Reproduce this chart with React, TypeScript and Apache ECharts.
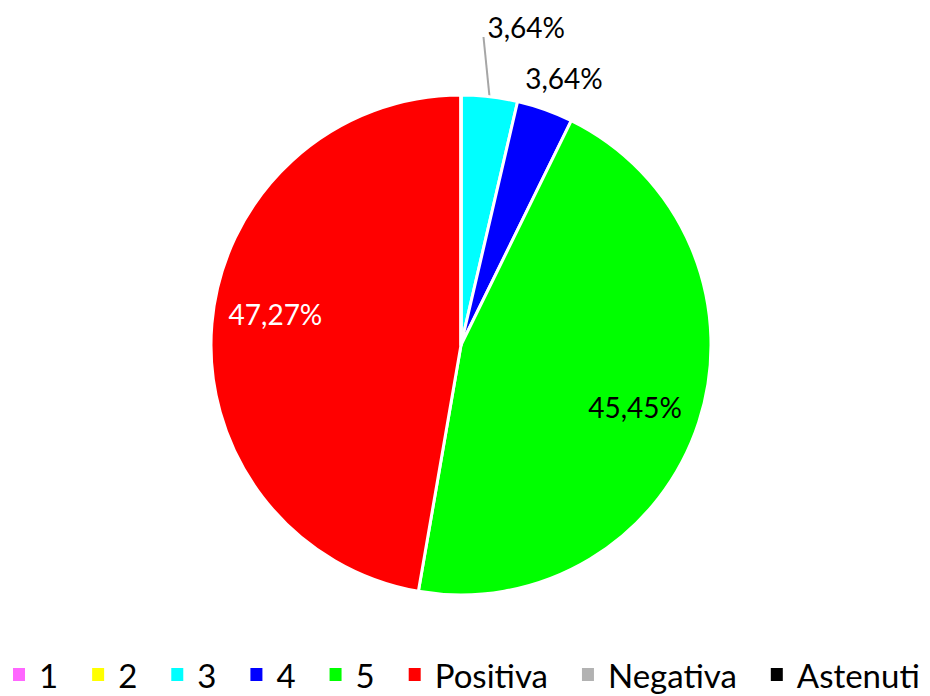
import React, { useEffect, useRef } from "react";
import * as echarts from "echarts";

const names = ["1", "2", "3", "4", "5", "Positiva", "Negativa", "Astenuti"];
const values = [0, 0, 2, 2, 25, 26, 0, 0];
const colors = ["#FF66FF", "#FFFF00", "#00FFFF", "#0000FF", "#00FF00", "#FF0000", "#B2B2B2", "#000000"];
const labelColors = ["#000", "#000", "#000", "#000", "#000", "#FFF", "#000", "#000"];

const FONT = "Lato";
const CX = 461;
const CY = 345;
const R = 250;

export default function App() {
  const ref = useRef<HTMLDivElement>(null);
  useEffect(() => {
    document.body.style.margin = "0";
    const chart = echarts.init(ref.current!, null, { renderer: "svg" });
    const total = values.reduce((a, b) => a + b, 0);
    const mid = values.map((v, i) => {
      const before = values.slice(0, i).reduce((a, b) => a + b, 0);
      return ((before + v / 2) / total) * 2 * Math.PI;
    });
    const data = names.map((n, i) => {
      const zero = values[i] === 0;
      const inside = i === 4 || i === 5;
      return {
        name: n,
        value: values[i],
        itemStyle: { color: colors[i] },
        label: {
          show: !zero,
          position: inside ? "inside" : "outside",
          color: labelColors[i],
        },
        labelLine: {
          show: i === 2,
          lineStyle: { color: "#A6A6A6", width: 2 },
        },
      };
    });
    chart.setOption({
      animation: false,
      backgroundColor: "#fff",
      legend: {
        data: names,
        left: 6,
        top: 653,
        icon: "rect",
        itemWidth: 14,
        itemHeight: 15,
        itemGap: 32,
        selectedMode: false,
        textStyle: { fontSize: 33, fontFamily: FONT, color: "#000", padding: [0, 0, 0, 8] },
      },
      series: [
        {
          type: "pie",
          center: [CX, CY],
          radius: R,
          startAngle: 90,
          clockwise: true,
          avoidLabelOverlap: false,
          itemStyle: { borderColor: "#fff", borderWidth: 3 },
          label: {
            fontSize: 28,
            fontFamily: FONT,
            formatter: (p: any) => p.percent.toFixed(2).replace(".", ",") + "%",
          },
          labelLine: { show: false },
          labelLayout: (p: any) => {
            const i = p.dataIndex;
            const a = mid[i];
            const s = Math.sin(a);
            const c = Math.cos(a);
            if (i === 5) {
              return { x: CX + 0.745 * R * s, y: CY - 0.745 * R * c - 15, align: "center", verticalAlign: "middle" };
            }
            if (i === 4) {
              return { x: CX + 0.745 * R * s - 3, y: CY - 0.745 * R * c + 4, align: "center", verticalAlign: "middle" };
            }
            if (i === 3) {
              return { x: CX + 1.13 * R * s + 8, y: CY - 1.13 * R * c - 1, align: "center", verticalAlign: "middle" };
            }
            if (i === 2) {
              const ax = CX + R * s;
              const ay = CY - R * c;
              return {
                x: ax - 2,
                y: 27,
                align: "left",
                verticalAlign: "middle",
                labelLinePoints: [
                  [ax, ay],
                  [ax - 6, 37],
                  [ax - 6, 37],
                ],
              };
            }
            return {};
          },
          data,
        },
      ],
    });
    return () => chart.dispose();
  }, []);
  return <div ref={ref} style={{ width: 930, height: 696 }} />;
}
